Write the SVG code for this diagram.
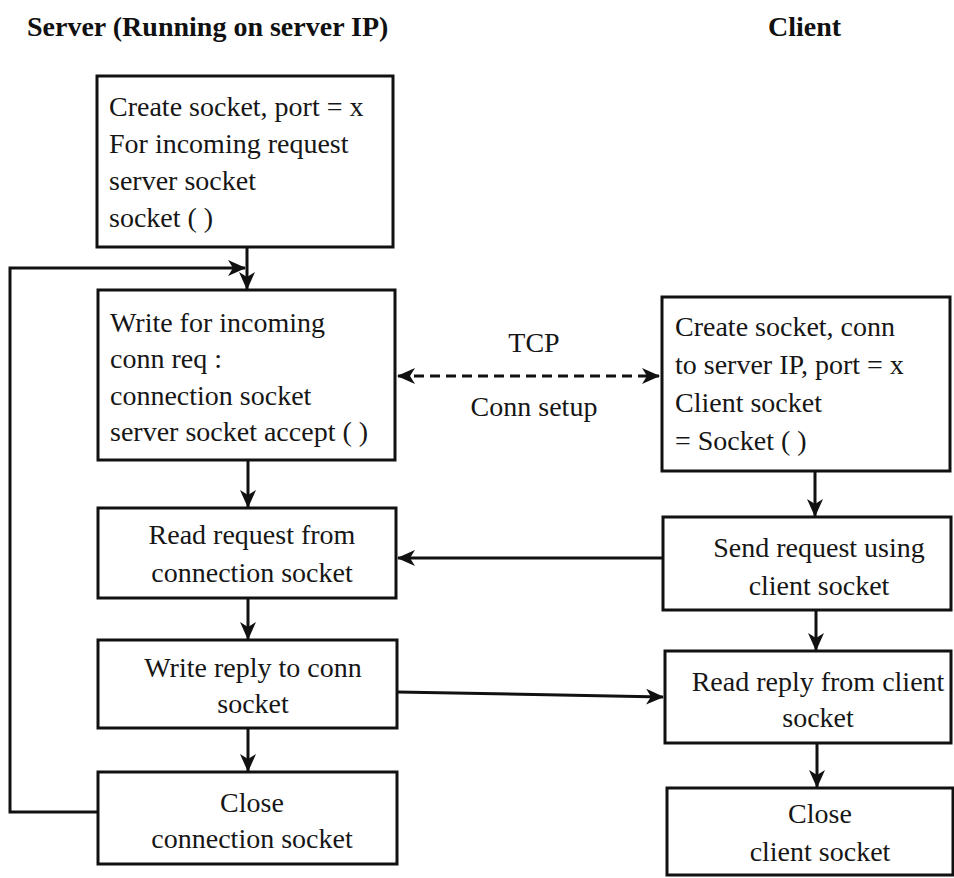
<svg xmlns="http://www.w3.org/2000/svg" width="954" height="878" viewBox="0 0 954 878">
  <style>
    .box { fill: #ffffff; stroke: #111111; stroke-width: 3; }
    .t { font-family: "Liberation Serif", "Times New Roman", serif; font-size: 28px; fill: #161616; }
    .c { text-anchor: middle; }
    .title { font-family: "Liberation Serif", "Times New Roman", serif; font-size: 28px; font-weight: bold; fill: #111111; }
    .ln { fill: none; stroke: #111111; stroke-width: 3; }
    .dash { stroke-dasharray: 10 6; }
  </style>
  <defs>
    <marker id="ah" markerUnits="userSpaceOnUse" markerWidth="18" markerHeight="16" viewBox="0 0 18 16" refX="17" refY="8" orient="auto-start-reverse">
      <path d="M0,0 L18,8 L0,16 L5,8 Z" fill="#111111" stroke="none"/>
    </marker>
  </defs>
  <rect x="0" y="0" width="954" height="878" fill="#ffffff"/>

  <text class="title" x="27" y="36">Server (Running on server IP)</text>
  <text class="title" x="768" y="36">Client</text>

  <g id="connectors">
    <path class="ln" d="M247,247 V289" marker-end="url(#ah)"/>
    <path class="ln" d="M98,812 H10 V268 H245" marker-end="url(#ah)"/>
    <path class="ln" d="M248,460 V507" marker-end="url(#ah)"/>
    <path class="ln" d="M248,598 V639" marker-end="url(#ah)"/>
    <path class="ln" d="M248,728 V771" marker-end="url(#ah)"/>
    <path class="ln dash" d="M398,376 H659" marker-start="url(#ah)" marker-end="url(#ah)"/>
    <path class="ln" d="M815,471 V516" marker-end="url(#ah)"/>
    <path class="ln" d="M816,610 V650" marker-end="url(#ah)"/>
    <path class="ln" d="M817,743 V787" marker-end="url(#ah)"/>
    <path class="ln" d="M663,558 H398" marker-end="url(#ah)"/>
    <path class="ln" d="M397,692 L663,697" marker-end="url(#ah)"/>
    <text class="t c" x="534" y="352">TCP</text>
    <text class="t c" x="534" y="416">Conn setup</text>
  </g>

  <g id="s1">
    <rect class="box" x="97" y="76" width="296" height="171"/>
    <text class="t" x="109" y="116">Create socket, port = x</text>
    <text class="t" x="109" y="153">For incoming request</text>
    <text class="t" x="109" y="190">server socket</text>
    <text class="t" x="109" y="227">socket ( )</text>
  </g>
  <g id="s2">
    <rect class="box" x="98" y="290" width="297" height="170"/>
    <text class="t" x="110" y="332">Write for incoming</text>
    <text class="t" x="110" y="368">conn req :</text>
    <text class="t" x="110" y="405">connection socket</text>
    <text class="t" x="110" y="441">server socket accept ( )</text>
  </g>
  <g id="s3">
    <rect class="box" x="98" y="508" width="298" height="90"/>
    <text class="t c" x="252" y="544">Read request from</text>
    <text class="t c" x="252" y="582">connection socket</text>
  </g>
  <g id="s4">
    <rect class="box" x="98" y="640" width="299" height="88"/>
    <text class="t c" x="253" y="677">Write reply to conn</text>
    <text class="t c" x="253" y="713">socket</text>
  </g>
  <g id="s5">
    <rect class="box" x="98" y="772" width="299" height="92"/>
    <text class="t c" x="252" y="812">Close</text>
    <text class="t c" x="252" y="848">connection socket</text>
  </g>

  <g id="c1">
    <rect class="box" x="662" y="297" width="288" height="174"/>
    <text class="t" x="675" y="336">Create socket, conn</text>
    <text class="t" x="675" y="374">to server IP, port = x</text>
    <text class="t" x="675" y="412">Client socket</text>
    <text class="t" x="675" y="450">= Socket ( )</text>
  </g>
  <g id="c2">
    <rect class="box" x="663" y="517" width="288" height="93"/>
    <text class="t c" x="819" y="557">Send request using</text>
    <text class="t c" x="819" y="595">client socket</text>
  </g>
  <g id="c3">
    <rect class="box" x="665" y="651" width="286" height="92"/>
    <text class="t c" x="818" y="691">Read reply from client</text>
    <text class="t c" x="818" y="727">socket</text>
  </g>
  <g id="c4">
    <rect class="box" x="667" y="788" width="286" height="87"/>
    <text class="t c" x="820" y="823">Close</text>
    <text class="t c" x="820" y="861">client socket</text>
  </g>
</svg>
